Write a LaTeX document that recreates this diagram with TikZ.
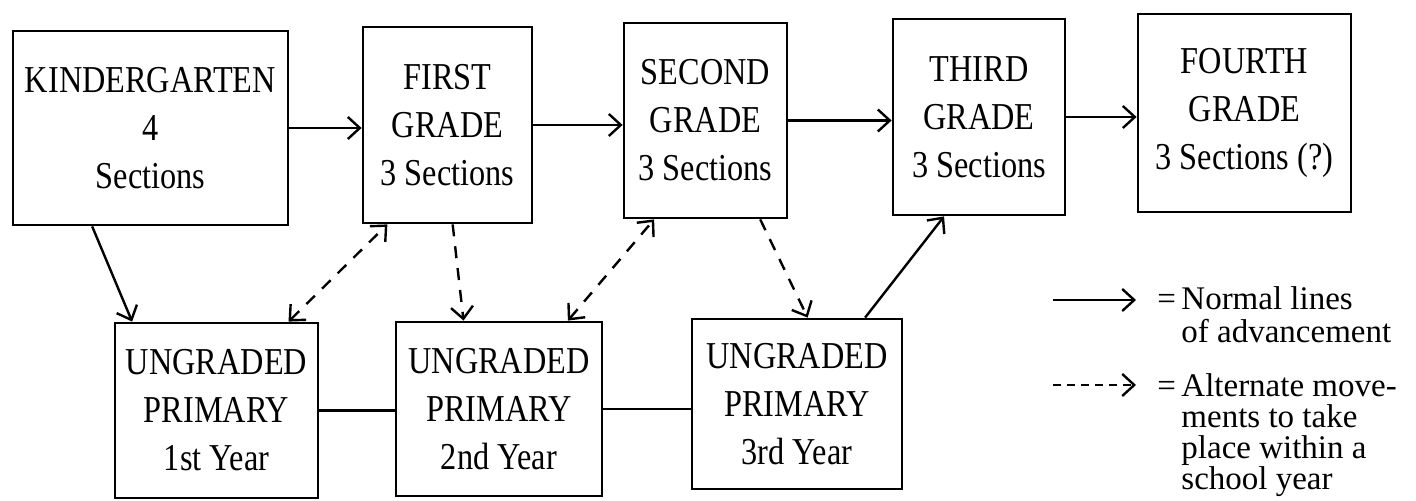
\documentclass[tikz,border=0pt]{standalone}
\usepackage{fontspec}
\setmainfont{Liberation Serif}
\newfontfamily\boxfont[FakeStretch=0.85]{Liberation Serif}
\usetikzlibrary{arrows.meta,calc}
\begin{document}
\begin{tikzpicture}[x=0.5pt,y=-0.5pt,
  >={Straight Barb[length=6pt,width=11pt,line width=1.2pt]},
  box/.style 2 args={draw, line width=1.4pt, align=center, inner sep=0pt,
    minimum width={#1*0.5pt}, minimum height={#2*0.5pt},
    font=\boxfont\fontsize{19pt}{24pt}\selectfont},
  normal/.style={line width=1.2pt, ->},
  alt/.style={line width=1.2pt, dash pattern=on 6pt off 5pt, ->},
  altboth/.style={line width=1.2pt, dash pattern=on 6pt off 5pt, <->},
  plain/.style={line width=1.2pt},
  legtext/.style={anchor=base west, inner sep=0pt, font=\fontsize{16.5pt}{15pt}\selectfont}
]
\useasboundingbox (0,0) rectangle (1416,501);

% top row
\node[box={275}{194}] (K)  at (150.5,128) {KINDERGARTEN\\4\\Sections};
\node[box={169}{196}] (F)  at (447.5,125) {FIRST\\GRADE\\3 Sections};
\node[box={163}{195}] (S)  at (705.5,120.5) {SECOND\\GRADE\\3 Sections};
\node[box={172}{196}] (T)  at (979,117) {THIRD\\GRADE\\3 Sections};
\node[box={213}{198}] (Fo) at (1244.5,113) {FOURTH\\GRADE\\3 Sections (?)};

% bottom row
\node[box={203}{175}] (U1) at (216.5,410.5) {UNGRADED\\PRIMARY\\1st Year};
\node[box={206}{174}] (U2) at (499,409) {UNGRADED\\PRIMARY\\2nd Year};
\node[box={210}{170}] (U3) at (797,404) {UNGRADED\\PRIMARY\\3rd Year};

% horizontal advancement
\draw[normal] (K.east) -- (K.east -| F.west);
\draw[normal] (F.east) -- (F.east -| S.west);
\draw[normal] (S.east) -- (S.east -| T.west);
\draw[normal] (T.east) -- (T.east -| Fo.west);

% bottom connections
\draw[plain] (U1.east) -- (U1.east -| U2.west);
\draw[plain] (U2.east) -- (U2.east -| U3.west);

% diagonal connectors
\draw[normal] ($(K.south west)!0.29!(K.south east)$) -- ($(U1.north west)!0.09!(U1.north east)$);
\draw[altboth] ($(U1.north west)!0.85!(U1.north east)$) -- ($(F.south west)!0.15!(F.south east)$);
\draw[alt] ($(F.south west)!0.53!(F.south east)$) -- ($(U2.north west)!0.33!(U2.north east)$);
\draw[altboth] ($(U2.north west)!0.83!(U2.north east)$) -- ($(S.south west)!0.19!(S.south east)$);
\draw[alt] ($(S.south west)!0.83!(S.south east)$) -- ($(U3.north west)!0.55!(U3.north east)$);
\draw[normal] ($(U3.north west)!0.82!(U3.north east)$) -- ($(T.south west)!0.30!(T.south east)$);

% legend
\coordinate (l1a) at (1053,300);
\coordinate (l1b) at (1136,300);
\coordinate (l2a) at (1053,385);
\coordinate (l2b) at (1136,385);
\draw[normal] (l1a) -- (l1b);
\draw[line width=1.2pt, dash pattern=on 4pt off 3pt, ->] (l2a) -- (l2b);
\node[legtext] (eq1) at (1157,310) {=};
\node[legtext] (t1a) at (1181,310) {Normal lines};
\node[legtext] (t1b) at (1181,343) {of advancement};
\node[legtext] (eq2) at (1157,396) {=};
\node[legtext] (t2a) at (1181,396) {Alternate move-};
\node[legtext] (t2b) at (1181,428) {ments to take};
\node[legtext] (t2c) at (1181,458) {place within a};
\node[legtext] (t2d) at (1181,489) {school year};
\end{tikzpicture}
\end{document}
